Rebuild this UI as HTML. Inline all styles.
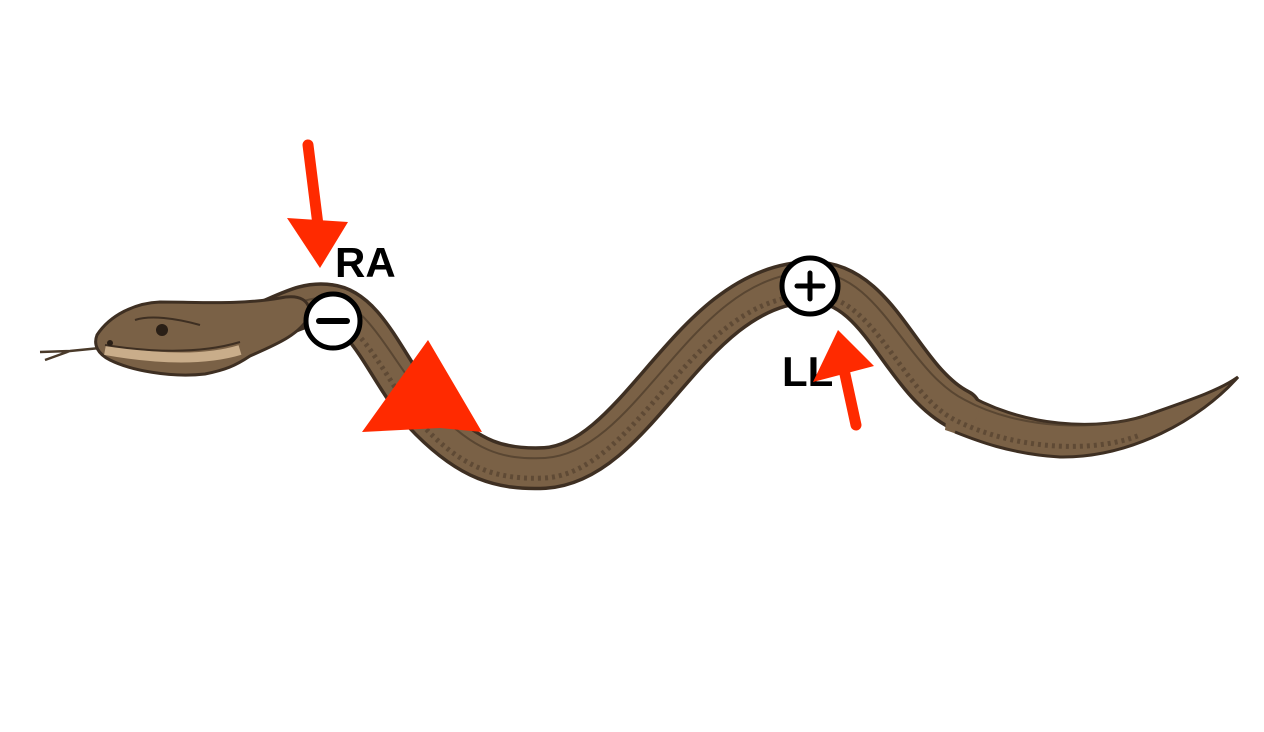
<!DOCTYPE html>
<html><head><meta charset="utf-8"><style>
html,body{margin:0;padding:0;background:#fff;width:1264px;height:732px;overflow:hidden}
svg{display:block}
</style></head><body>
<svg width="1264" height="732" viewBox="0 0 1264 732" xmlns="http://www.w3.org/2000/svg">
<!-- tongue -->
<path d="M100,348 L70,351 L40,352 M70,351 L45,360" stroke="#4a3a2a" stroke-width="2.5" fill="none"/>
<!-- body outline -->
<path d="M230,335 C280,320 300,300 330,305 C370,310 390,380 430,420 C470,460 500,470 545,468 C640,462 690,285 810,282 C880,280 900,380 960,410" stroke="#3e2f22" stroke-width="44" fill="none" stroke-linecap="round"/>
<path d="M950,386 C1020,428 1100,432 1150,414 C1190,400 1220,390 1238,377 C1200,420 1130,458 1060,457 C1010,454 975,440 945,430 Z" fill="#7a6146"/>
<path d="M960,390 C1020,428 1100,432 1150,414 C1190,400 1220,390 1238,377 C1200,420 1130,458 1060,457 C1010,454 975,440 955,432" stroke="#3e2f22" stroke-width="3" fill="none"/>
<path d="M230,335 C280,320 300,300 330,305 C370,310 390,380 430,420 C470,460 500,470 545,468 C640,462 690,285 810,282 C880,280 900,380 960,410" stroke="#7a6146" stroke-width="37" fill="none" stroke-linecap="round"/>
<path d="M230,330 C280,315 300,295 330,298 C370,302 395,370 435,410 C475,450 500,460 545,458 C640,452 690,275 810,272 C880,270 905,370 965,400 C1020,430 1100,432 1150,414" stroke="#4b3a2a" stroke-width="2" fill="none" opacity="0.7"/>
<path d="M240,345 C290,330 300,315 330,318 C365,322 390,390 425,428 C465,470 500,480 545,478 C640,472 690,298 810,295 C875,292 900,392 955,420 C1010,448 1090,455 1140,435" stroke="#3e2f22" stroke-width="5" fill="none" opacity="0.45" stroke-dasharray="3 4"/>
<!-- head -->
<path d="M97,335 C110,315 135,303 160,302 C200,302 240,305 280,298 C300,294 310,300 310,315 C300,335 275,345 250,356 C235,366 225,370 205,374 C170,378 130,370 110,360 C98,354 93,345 97,335 Z" fill="#7a6146" stroke="#3e2f22" stroke-width="3"/>
<path d="M105,350 C150,358 200,362 240,350" stroke="#c9ad8a" stroke-width="10" fill="none"/>
<path d="M105,345 C150,352 200,354 240,342" stroke="#3e2f22" stroke-width="2" fill="none"/>
<ellipse cx="162" cy="330" rx="6" ry="6" fill="#2a1f16"/>
<ellipse cx="110" cy="343" rx="3" ry="3" fill="#2a1f16"/>
<path d="M135,320 C150,315 175,318 200,325" stroke="#3e2f22" stroke-width="2" fill="none"/>
<!-- red arrows -->
<path d="M308,145 L318,225" stroke="#ff2a00" stroke-width="11" stroke-linecap="round"/>
<polygon points="287,218 348,222 320,268" fill="#ff2a00"/>
<polygon points="362,432 428,340 482,432 440,428" fill="#ff2a00"/>
<!-- markers -->
<circle cx="333" cy="321" r="27" fill="#fff" stroke="#000" stroke-width="5"/>
<line x1="319" y1="321" x2="347" y2="321" stroke="#000" stroke-width="6" stroke-linecap="round"/>
<circle cx="810" cy="286" r="28" fill="#fff" stroke="#000" stroke-width="5"/>
<line x1="797" y1="286" x2="823" y2="286" stroke="#000" stroke-width="5" stroke-linecap="round"/>
<line x1="810" y1="273" x2="810" y2="299" stroke="#000" stroke-width="5" stroke-linecap="round"/>
<text x="335" y="277" font-family="Liberation Sans, sans-serif" font-weight="bold" font-size="42" fill="#000">RA</text>
<text x="782" y="386" font-family="Liberation Sans, sans-serif" font-weight="bold" font-size="42" fill="#000">LL</text>
<path d="M856,425 L843,365" stroke="#ff2a00" stroke-width="11" stroke-linecap="round"/>
<polygon points="813,382 838,330 874,366" fill="#ff2a00"/>
</svg>
</body></html>
